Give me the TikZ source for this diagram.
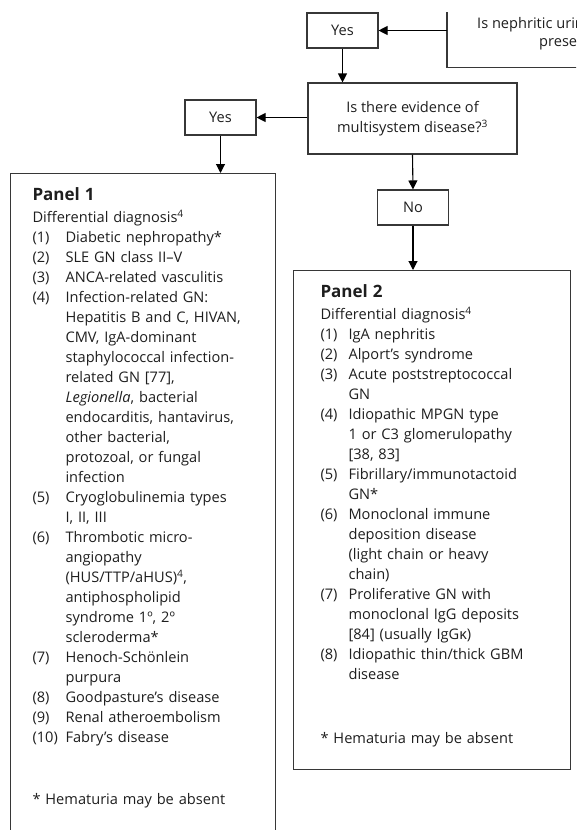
\documentclass[tikz,border=0pt]{standalone}
\usepackage{fontspec}
\setmainfont{Open Sans}
\usetikzlibrary{arrows.meta,positioning}
\definecolor{BoxGray}{RGB}{55,55,55}
\definecolor{TextGray}{RGB}{30,30,30}
\newlength{\numw}
\newcommand{\pnum}[2]{\makebox[\numw][l]{#1}\mbox{#2}}
\newcommand{\pcont}[1]{\hspace*{\numw}\mbox{#1}}
\newcommand{\bodyfont}{\fontsize{14.6}{20}\selectfont}
\newcommand{\titlefont}{\fontsize{17}{22}\selectfont\bfseries}

\begin{document}
\begin{tikzpicture}[x=1pt, y=-1pt,
  answer/.style={
    draw=BoxGray, line width=1.1pt, minimum width=71pt, minimum height=35pt,
    inner sep=0pt, text=TextGray, font=\bodyfont
  },
  question/.style={
    draw=BoxGray, line width=1.1pt, minimum width=209pt, minimum height=71pt,
    inner sep=0pt, align=center, text=TextGray, font=\bodyfont
  },
  panel/.style={
    draw=BoxGray, line width=1.1pt, anchor=north west, align=left,
    inner ysep=14pt, text=TextGray, font=\bodyfont
  },
  arr/.style={-{Triangle[length=9pt,width=9pt]}, line width=1.1pt, black}
]
\useasboundingbox (0,0) rectangle (576,830);
\clip (0,0) rectangle (576,830);

% --- Question at the top (cut off by the page edge)
\node[minimum width=260pt, minimum height=55pt, anchor=north west] (urinebox) at (447,12) {};
\node[anchor=north west, align=center, inner sep=0pt, text=TextGray, font=\fontsize{14.6}{18}\selectfont] (urinetxt)
  at (477,17) {Is nephritic urine sediment\\present?};
\draw[draw=BoxGray, line width=1.1pt] (urinebox.north west) -- (urinebox.south west) -- (urinebox.south east);

% --- Answers and second question
\node[answer]   (yesA)  at (342.5,30.5) {Yes};
\node[question] (multi) at (412.5,118.5) {Is there evidence of\\multisystem disease?\textsuperscript{3}};
\node[answer]   (yesB)  at (220.5,117.5) {Yes};
\node[answer]   (noB)   at (413,207.5) {No};

% --- Panel 1
\node[panel, text width=221pt, inner xsep=22pt] (panelA) at (10,173) {%
  \setlength{\numw}{33pt}%
  {\titlefont Panel 1}\\[2pt]
  Differential diagnosis\textsuperscript{4}\\
  \pnum{(1)}{Diabetic nephropathy*}\\
  \pnum{(2)}{SLE GN class II--V}\\
  \pnum{(3)}{ANCA-related vasculitis}\\
  \pnum{(4)}{Infection-related GN:}\\
  \pcont{Hepatitis B and C, HIVAN,}\\
  \pcont{CMV, IgA-dominant}\\
  \pcont{staphylococcal infection-}\\
  \pcont{related GN [77],}\\
  \pcont{\textit{Legionella}, bacterial}\\
  \pcont{endocarditis, hantavirus,}\\
  \pcont{other bacterial,}\\
  \pcont{protozoal, or fungal}\\
  \pcont{infection}\\
  \pnum{(5)}{Cryoglobulinemia types}\\
  \pcont{I, II, III}\\
  \pnum{(6)}{Thrombotic micro-}\\
  \pcont{angiopathy}\\
  \pcont{(HUS/TTP/aHUS)\textsuperscript{4},}\\
  \pcont{antiphospholipid}\\
  \pcont{syndrome 1º, 2º}\\
  \pcont{scleroderma*}\\
  \pnum{(7)}{Henoch-Schönlein}\\
  \pcont{purpura}\\
  \pnum{(8)}{Goodpasture's disease}\\
  \pnum{(9)}{Renal atheroembolism}\\
  \pnum{(10)}{Fabry's disease}\\[42pt]
  * Hematuria may be absent\\[60pt]\mbox{}};

% --- Panel 2
\node[panel, text width=223pt, inner xsep=27pt] (panelB) at (293,270) {%
  \setlength{\numw}{28pt}%
  {\titlefont Panel 2}\\[2pt]
  Differential diagnosis\textsuperscript{4}\\
  \pnum{(1)}{IgA nephritis}\\
  \pnum{(2)}{Alport's syndrome}\\
  \pnum{(3)}{Acute poststreptococcal}\\
  \pcont{GN}\\
  \pnum{(4)}{Idiopathic MPGN type}\\
  \pcont{1 or C3 glomerulopathy}\\
  \pcont{[38, 83]}\\
  \pnum{(5)}{Fibrillary/immunotactoid}\\
  \pcont{GN*}\\
  \pnum{(6)}{Monoclonal immune}\\
  \pcont{deposition disease}\\
  \pcont{(light chain or heavy}\\
  \pcont{chain)}\\
  \pnum{(7)}{Proliferative GN with}\\
  \pcont{monoclonal IgG deposits}\\
  \pcont{[84] (usually IgGκ)}\\
  \pnum{(8)}{Idiopathic thin/thick GBM}\\
  \pcont{disease}\\[44pt]
  * Hematuria may be absent\\[-8pt]\mbox{}};

% --- Connectors
\draw[arr] (urinebox.west |- yesA.east) -- (yesA.east);
\draw[arr] (yesA.south) -- (yesA.south |- multi.north);
\draw[arr] (multi.west |- yesB.east) -- (yesB.east);
\draw[arr] (yesB.south) -- (yesB.south |- panelA.north);
\draw[arr] (multi.south) -- (noB.north);
\draw[arr] (noB.south) -- (noB.south |- panelB.north);

\end{tikzpicture}
\end{document}
